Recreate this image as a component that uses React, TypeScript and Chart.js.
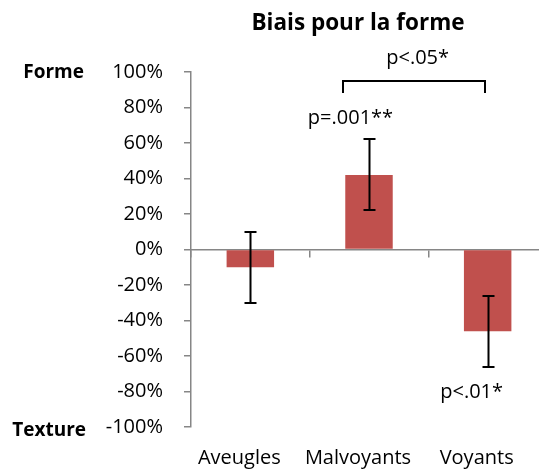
import React, { useEffect, useRef } from 'react';
import { Chart, registerables } from 'chart.js';

Chart.register(...registerables);

// ---- data ----
const categories = ['Aveugles', 'Malvoyants', 'Voyants'];
const biasValues = [-10, 42, -46];
const errorValues = [20, 20, 20];
const yMin = -100;
const yMax = 100;
const yStep = 20;
const titleText = 'Biais pour la forme';
const topSideLabel = 'Forme';
const bottomSideLabel = 'Texture';
const pLabelMalvoyants = 'p=.001**';
const pLabelBracket = 'p<.05*';
const pLabelVoyants = 'p<.01*';

const FONT = "'Open Sans', 'DejaVu Sans', sans-serif";
const AXIS_GRAY = '#868686';
const BAR_RED = '#C0504D';
const TEXT_SIZE = 20;

const overlayPlugin = {
  id: 'overlay',
  afterDatasetsDraw(chart: any) {
    const ctx = chart.ctx;
    const xs = chart.scales.x;
    const ys = chart.scales.y;
    const ca = chart.chartArea;
    const meta = chart.getDatasetMeta(0);
    const catW = (ca.right - ca.left) / categories.length;

    ctx.save();
    // error bars
    ctx.strokeStyle = '#000';
    ctx.lineWidth = 2;
    meta.data.forEach((bar: any, i: number) => {
      const cx = Math.round(bar.x) + 0.5;
      const v = biasValues[i];
      const e = errorValues[i];
      const yt = Math.round(ys.getPixelForValue(v + e));
      const yb = Math.round(ys.getPixelForValue(v - e));
      ctx.beginPath();
      ctx.moveTo(cx, yt);
      ctx.lineTo(cx, yb);
      ctx.moveTo(cx - 6, yt);
      ctx.lineTo(cx + 6, yt);
      ctx.moveTo(cx - 6, yb);
      ctx.lineTo(cx + 6, yb);
      ctx.stroke();
    });

    // bracket between Malvoyants and Voyants
    const c1 = xs.getPixelForValue(1);
    const c2 = xs.getPixelForValue(2);
    const bl = Math.round(c1 - 0.215 * catW);
    const br = Math.round(c2 - 0.02 * catW);
    const bt = Math.round(ys.getPixelForValue(95));
    const bb = Math.round(ys.getPixelForValue(88));
    ctx.beginPath();
    ctx.moveTo(bl, bb);
    ctx.lineTo(bl, bt);
    ctx.lineTo(br, bt);
    ctx.lineTo(br, bb);
    ctx.stroke();

    // p-value texts
    ctx.fillStyle = '#000';
    ctx.font = `${TEXT_SIZE}px ${FONT}`;
    ctx.textAlign = 'center';
    ctx.textBaseline = 'middle';
    ctx.fillText(pLabelMalvoyants, c1 - 0.156 * catW, ys.getPixelForValue(74));
    ctx.fillText(pLabelBracket, (c1 + c2) / 2 - 0.09 * catW, ys.getPixelForValue(108));
    ctx.fillText(pLabelVoyants, c2 - 0.135 * catW, ys.getPixelForValue(-80.5));

    // side labels
    ctx.font = `bold 19px ${FONT}`;
    ctx.textAlign = 'right';
    ctx.fillText(topSideLabel, 84, ys.getPixelForValue(yMax) + 1);
    ctx.fillText(bottomSideLabel, 86, ys.getPixelForValue(yMin) + 4);

    // title
    ctx.font = `bold 22.5px ${FONT}`;
    ctx.textAlign = 'center';
    ctx.fillText(titleText, (ca.left + ca.right) / 2 - 11, 24);
    ctx.restore();
  },
};

export default function App() {
  const canvasRef = useRef<HTMLCanvasElement | null>(null);

  useEffect(() => {
    if (!canvasRef.current) return;
    Chart.defaults.font.family = FONT;
    Chart.defaults.color = '#000';
    const chart = new Chart(canvasRef.current, {
      type: 'bar',
      data: {
        labels: categories,
        datasets: [
          {
            data: biasValues,
            backgroundColor: BAR_RED,
            borderWidth: 0,
            barPercentage: 0.4,
            categoryPercentage: 1,
          },
        ],
      },
      options: {
        responsive: false,
        animation: false,
        events: [],
        layout: { padding: { top: 72, right: 0, bottom: 0, left: 0 } },
        plugins: {
          legend: { display: false },
          tooltip: { enabled: false },
          title: { display: false },
        },
        scales: {
          x: {
            type: 'category',
            position: 'bottom',
            offset: true,
            grid: { display: false, drawTicks: false },
            border: { display: false },
            ticks: {
              font: { size: TEXT_SIZE },
              color: '#000',
              padding: 19,
              labelOffset: -11,
              maxRotation: 0,
              autoSkip: false,
            },
            afterFit: (s: any) => {
              s.height = 43;
            },
          },
          x0: {
            type: 'category',
            labels: categories,
            position: { y: 0 },
            offset: true,
            grid: {
              display: true,
              offset: true,
              drawOnChartArea: false,
              drawTicks: true,
              tickLength: 7,
              color: AXIS_GRAY,
              lineWidth: 1.5,
            },
            border: { display: true, color: AXIS_GRAY, width: 1.5 },
            ticks: { display: false },
          },
          y: {
            type: 'linear',
            position: 'left',
            min: yMin,
            max: yMax,
            grid: {
              display: true,
              drawOnChartArea: false,
              drawTicks: true,
              tickLength: 7,
              color: AXIS_GRAY,
              lineWidth: 1.5,
            },
            border: { display: true, color: AXIS_GRAY, width: 1.5 },
            ticks: {
              stepSize: yStep,
              font: { size: TEXT_SIZE },
              color: '#000',
              padding: 21,
              callback: (v: any) => `${v}%`,
            },
            afterFit: (s: any) => {
              s.width = 191;
            },
          },
        },
      },
      plugins: [overlayPlugin],
    } as any);
    return () => chart.destroy();
  }, []);

  return (
    <div
      style={{
        position: 'fixed',
        left: 0,
        top: 0,
        width: 539,
        height: 470,
        overflow: 'hidden',
        background: '#fff',
      }}
    >
      <canvas ref={canvasRef} width={547} height={470} style={{ display: 'block' }} />
    </div>
  );
}
